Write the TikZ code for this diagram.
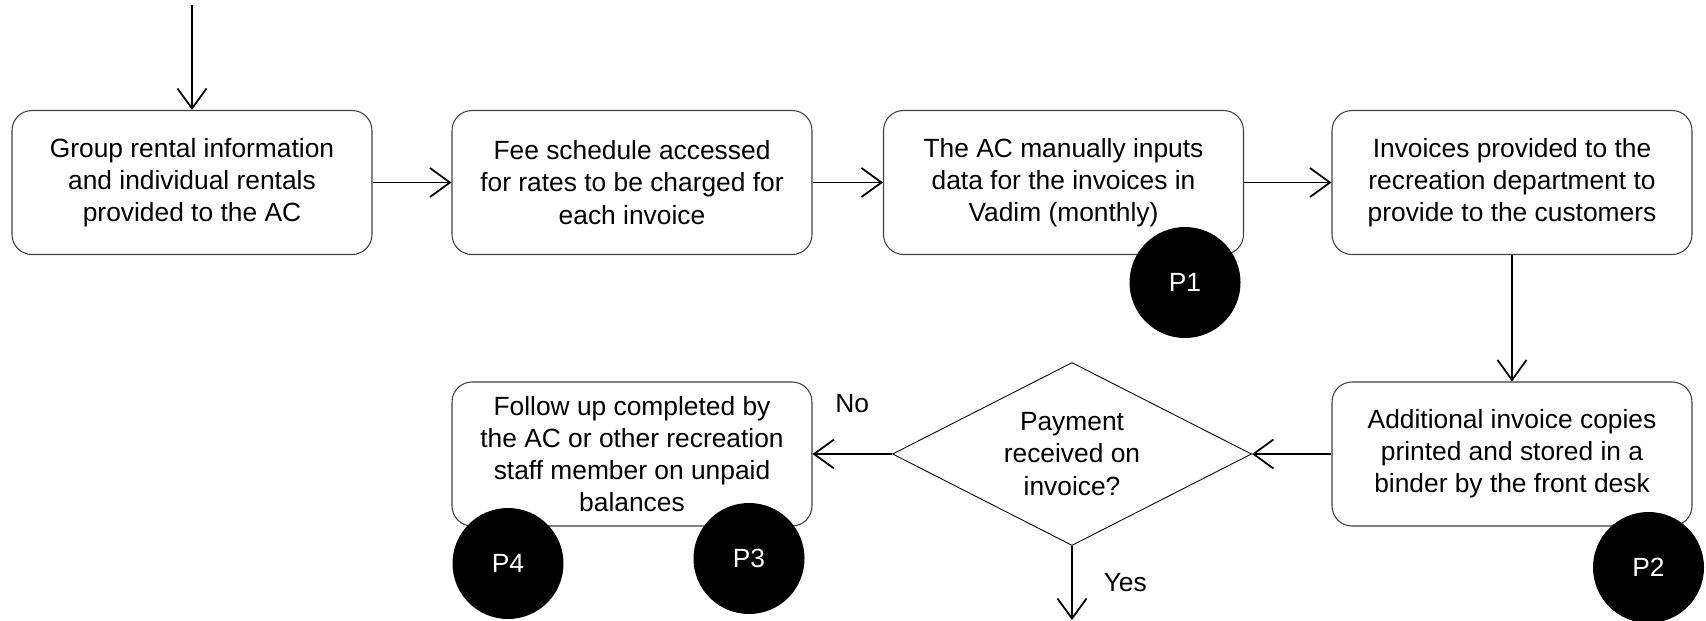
\documentclass[tikz,border=0pt]{standalone}
\usepackage{fontspec}
\setmainfont{Liberation Sans}
\usepackage{tikz}
\usetikzlibrary{shapes.geometric, arrows.meta}
\tikzstyle{process} = [rectangle, rounded corners=0.4cm, minimum width=7.2cm, minimum height=2.88cm, align=center, draw=black!75, line width=0.6pt, fill=white]
\tikzstyle{decision} = [diamond, aspect=1.96, minimum width=7.18cm, minimum height=3.66cm, inner sep=0pt, align=center, draw=black, line width=0.5pt, fill=white]
\tikzstyle{problem} = [circle, minimum size=2.22cm, fill=black, text=white]
\tikzstyle{arrow} = [line width=1pt, -{Straight Barb[length=0.4cm, width=0.58cm]}]

\begin{document}
\begin{tikzpicture}[node distance=8.8cm, font=\fontsize{15pt}{18.3pt}\selectfont]
        \useasboundingbox (0,0) rectangle (34.12,12.4);
        \node (b1) [process] at (3.84,8.75) {Group rental information\\and individual rentals\\provided to the AC};
        \node (b2) [process, right of=b1] {Fee schedule accessed\\for rates to be charged for\\each invoice};
        \node (b3) [process, right of=b2, xshift=-0.17cm] {The AC manually inputs\\data for the invoices in\\Vadim (monthly)};
        \node (b4) [process, right of=b3, xshift=0.17cm] {Invoices provided to the\\recreation department to\\provide to the customers};
        \node (b5) [process, below of=b4, node distance=5.43cm] {Additional invoice copies\\printed and stored in a\\binder by the front desk};
        \node (dec) [decision, left of=b5] {Payment\\received on\\invoice?};
        \node (b6) [process, left of=dec] {Follow up completed by\\the AC or other recreation\\staff member on unpaid\\balances};
        \coordinate [above of=b1, node distance=3.55cm] (start);
        \coordinate [below of=dec, node distance=3.32cm] (yes);
        \node (p1) [problem, below of=b3, node distance=2cm, xshift=2.43cm] {P1};
        \node (p2) [problem, below of=b5, node distance=2.27cm, xshift=2.73cm] {P2};
        \node (p3) [problem, below of=b6, node distance=2.09cm, xshift=2.34cm] {P3};
        \node (p4) [problem, below of=b6, node distance=2.19cm, xshift=-2.48cm] {P4};
        \draw [arrow] (start) -- (b1);
        \draw [arrow] (b1) -- (b2);
        \draw [arrow] (b2) -- (b3);
        \draw [arrow] (b3) -- (b4);
        \draw [arrow] (b4) -- (b5);
        \draw [arrow] (b5) -- (dec);
        \draw [arrow] (dec) -- (b6) node[midway, above, yshift=0.7cm] {No};
        \draw [arrow] (dec) -- (yes) node[midway, right, xshift=0.5cm] {Yes};
      \end{tikzpicture}
\end{document}
